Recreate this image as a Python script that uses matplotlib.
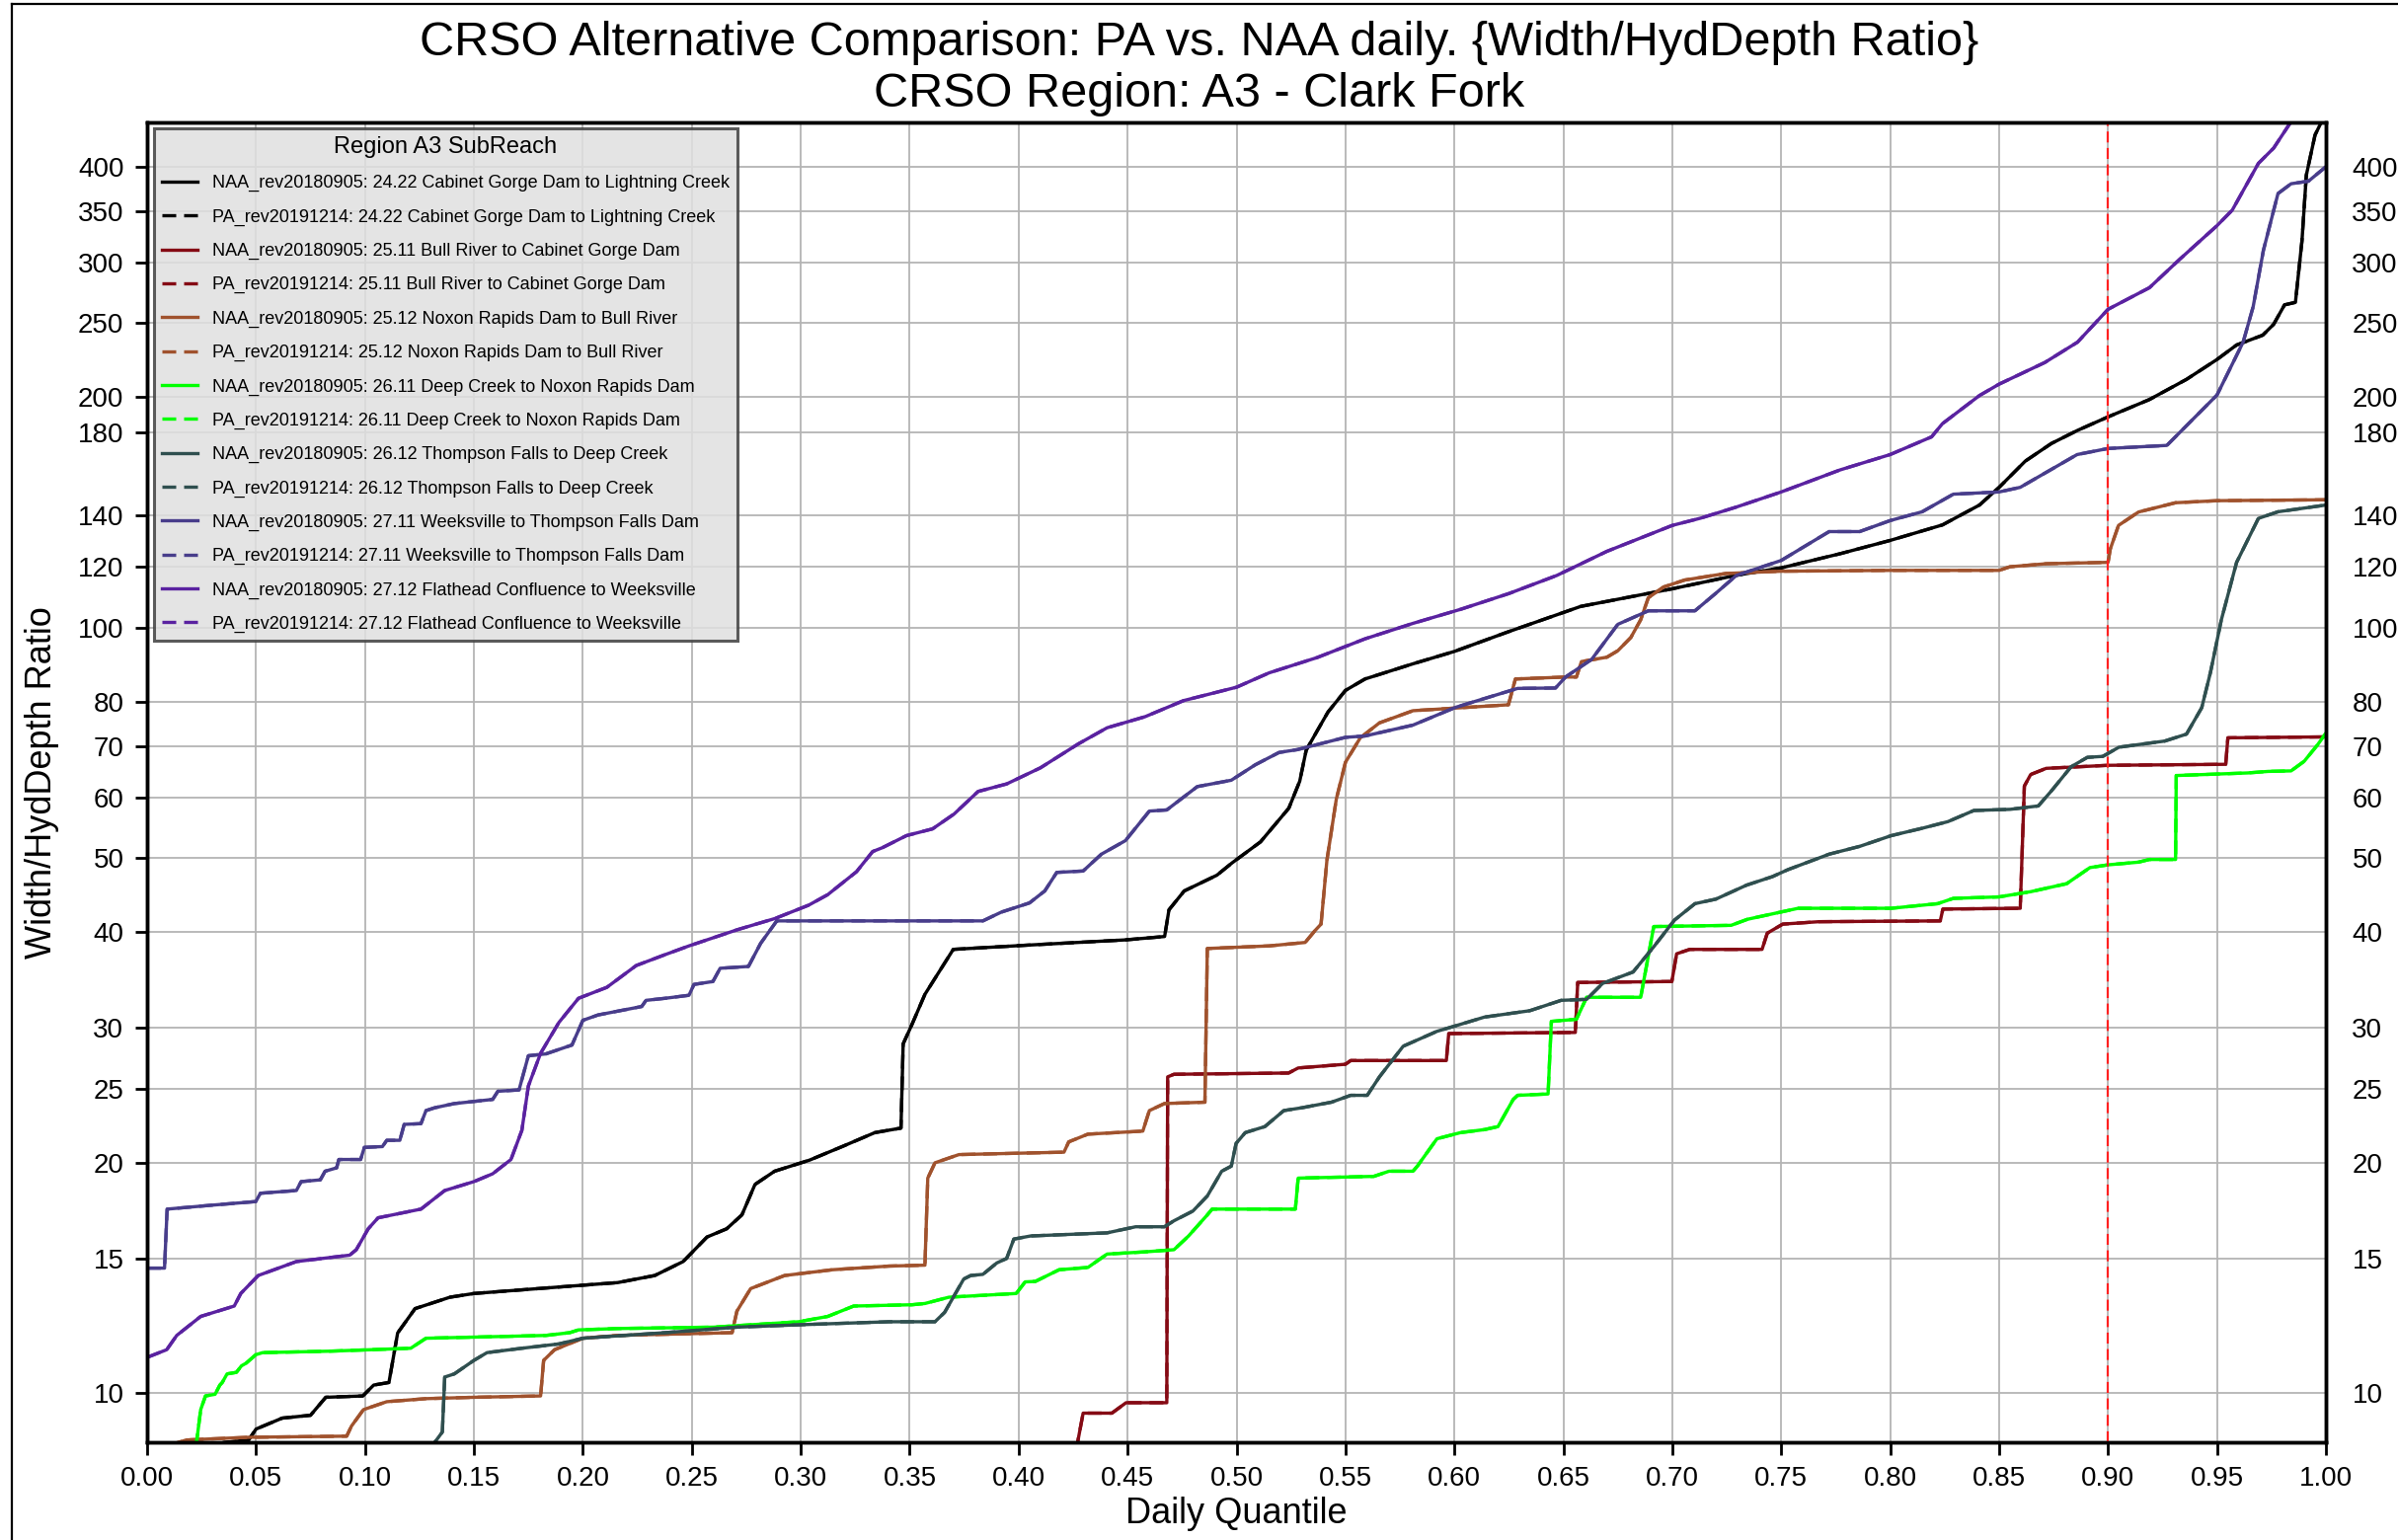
import matplotlib
matplotlib.use("Agg")
import matplotlib.pyplot as plt
from matplotlib.lines import Line2D
from matplotlib.ticker import FixedLocator, FixedFormatter, NullLocator

plt.rcParams["font.family"] = ["Liberation Sans", "DejaVu Sans"]

# ---------------------------------------------------------------------------
# Daily quantile curves, (quantile, width / hydraulic-depth ratio) pairs
# ---------------------------------------------------------------------------
cabinet_gorge = [
    (0.025, 8.5), (0.035, 8.62), (0.0466, 8.69), (0.050, 8.98), (0.062, 9.28),
    (0.075, 9.36), (0.082, 9.88), (0.099, 9.92), (0.104, 10.25), (0.111, 10.33),
    (0.115, 11.99), (0.123, 12.9), (0.139, 13.35), (0.150, 13.5), (0.194, 13.8),
    (0.216, 13.95), (0.233, 14.25), (0.246, 14.86), (0.257, 16.0), (0.266, 16.4),
    (0.273, 17.1), (0.279, 18.74), (0.288, 19.5), (0.304, 20.16), (0.319, 21.0),
    (0.334, 21.9), (0.346, 22.2), (0.347, 28.6), (0.351, 30.3), (0.357, 33.2),
    (0.370, 38.0), (0.405, 38.5), (0.449, 39.1), (0.467, 39.5), (0.469, 42.8),
    (0.476, 45.3), (0.491, 47.5), (0.498, 49.3), (0.511, 52.5), (0.524, 58.1),
    (0.529, 63.0), (0.532, 69.2), (0.537, 73.3), (0.542, 77.6), (0.550, 82.8),
    (0.559, 85.7), (0.581, 89.7), (0.600, 93.1), (0.624, 98.6), (0.658, 106.6),
    (0.700, 112.4), (0.729, 117.0), (0.750, 119.7), (0.777, 124.9), (0.800, 130.0),
    (0.824, 136.2), (0.841, 144.6), (0.850, 152.5), (0.862, 165.0), (0.874, 174.0),
    (0.886, 181.0), (0.900, 188.5), (0.919, 198.6), (0.936, 211.0), (0.950, 224.0),
    (0.959, 234.0), (0.971, 241.0), (0.976, 249.0), (0.981, 264.0), (0.986, 266.0),
    (0.989, 320.0), (0.991, 390.0), (0.995, 440.0), (0.998, 458.0), (1.0, 500.0),
]

bull_river = [
    (0.4263, 8.4), (0.4296, 9.42), (0.4428, 9.42), (0.4493, 9.72), (0.468, 9.72),
    (0.4684, 25.9), (0.4713, 26.1), (0.5239, 26.2), (0.5283, 26.6), (0.550, 26.9),
    (0.5524, 27.2), (0.5963, 27.2), (0.5974, 29.5), (0.6555, 29.6), (0.6566, 34.4),
    (0.6998, 34.5), (0.702, 37.5), (0.708, 38.0), (0.7412, 38.0), (0.7436, 39.9),
    (0.7507, 41.0), (0.7673, 41.3), (0.823, 41.4), (0.8242, 42.9), (0.8597, 43.0),
    (0.8616, 62.1), (0.8645, 64.3), (0.8716, 65.5), (0.900, 66.1), (0.954, 66.3),
    (0.955, 71.8), (1.0, 72.0),
]

noxon_rapids = [
    (0.010, 8.55), (0.018, 8.69), (0.0466, 8.76), (0.0916, 8.79), (0.0938, 9.06),
    (0.0993, 9.52), (0.110, 9.75), (0.128, 9.84), (0.150, 9.88), (0.1806, 9.92),
    (0.182, 11.04), (0.187, 11.4), (0.200, 11.8), (0.216, 11.9), (0.2685, 12.0),
    (0.2707, 12.8), (0.277, 13.7), (0.2926, 14.25), (0.3146, 14.5), (0.3405, 14.66),
    (0.357, 14.7), (0.3583, 19.1), (0.3616, 20.0), (0.3726, 20.5), (0.4208, 20.65),
    (0.423, 21.3), (0.4318, 21.8), (0.457, 22.0), (0.460, 23.4), (0.4669, 23.9),
    (0.4855, 24.0), (0.4866, 38.1), (0.515, 38.4), (0.5315, 38.8), (0.536, 40.2),
    (0.5388, 41.0), (0.5415, 49.7), (0.5458, 59.7), (0.550, 66.7), (0.5568, 71.8),
    (0.5656, 75.1), (0.581, 77.9), (0.6248, 79.3), (0.628, 85.7), (0.651, 86.2),
    (0.656, 86.2), (0.6583, 90.3), (0.670, 91.5), (0.675, 93.3), (0.681, 97.1),
    (0.6855, 102.4), (0.689, 109.4), (0.696, 113.0), (0.7057, 115.4), (0.7246, 117.7),
    (0.750, 118.5), (0.800, 118.8), (0.850, 118.8), (0.855, 120.1), (0.8716, 121.2),
    (0.900, 121.7), (0.901, 126.6), (0.9048, 136.0), (0.914, 141.6), (0.931, 145.6),
    (0.950, 146.5), (1.0, 146.9),
]

deep_creek = [
    (0.0224, 8.5), (0.0246, 9.52), (0.0268, 9.92), (0.0312, 9.97), (0.0334, 10.25),
    (0.0345, 10.33), (0.0367, 10.6), (0.041, 10.65), (0.0433, 10.86), (0.0455, 10.95),
    (0.0499, 11.23), (0.053, 11.3), (0.0839, 11.35), (0.121, 11.45), (0.128, 11.8),
    (0.183, 11.9), (0.194, 12.0), (0.198, 12.1), (0.216, 12.15), (0.260, 12.2),
    (0.299, 12.4), (0.3124, 12.6), (0.3243, 13.0), (0.351, 13.05), (0.357, 13.1),
    (0.368, 13.35), (0.3989, 13.5), (0.403, 13.98), (0.4077, 14.0), (0.4186, 14.5),
    (0.4318, 14.6), (0.4406, 15.2), (0.458, 15.3), (0.4713, 15.4), (0.478, 16.05),
    (0.4866, 17.1), (0.4888, 17.4), (0.527, 17.4), (0.5283, 19.1), (0.563, 19.2),
    (0.570, 19.5), (0.581, 19.5), (0.583, 19.8), (0.592, 21.5), (0.6028, 21.9),
    (0.6138, 22.1), (0.620, 22.3), (0.627, 24.2), (0.629, 24.5), (0.643, 24.6),
    (0.6445, 30.6), (0.656, 30.8), (0.6607, 32.9), (0.6855, 32.9), (0.6915, 40.7),
    (0.727, 40.85), (0.7345, 41.6), (0.7578, 43.0), (0.8005, 43.0), (0.8218, 43.6),
    (0.829, 44.3), (0.850, 44.5), (0.8645, 45.2), (0.881, 46.3), (0.8917, 48.6),
    (0.900, 49.0), (0.914, 49.4), (0.919, 49.8), (0.931, 49.8), (0.9313, 64.1),
    (0.964, 64.6), (0.9735, 64.9), (0.984, 65.0), (0.990, 66.9), (0.996, 70.2),
    (1.0, 72.8),
]

thompson_falls = [
    (0.129, 8.4), (0.1355, 8.9), (0.1366, 10.5), (0.141, 10.6), (0.150, 11.04),
    (0.156, 11.3), (0.172, 11.45), (0.189, 11.6), (0.200, 11.8), (0.2377, 12.0),
    (0.2707, 12.2), (0.3036, 12.3), (0.3405, 12.4), (0.3616, 12.4), (0.366, 12.75),
    (0.3748, 14.1), (0.378, 14.25), (0.3836, 14.3), (0.390, 14.8), (0.3945, 15.0),
    (0.3978, 15.9), (0.4055, 16.05), (0.4406, 16.2), (0.4537, 16.5), (0.4669, 16.5),
    (0.4713, 16.8), (0.480, 17.3), (0.4866, 18.1), (0.4932, 19.5), (0.4976, 19.8),
    (0.4998, 21.2), (0.504, 21.9), (0.513, 22.3), (0.5217, 23.4), (0.530, 23.6),
    (0.5436, 24.0), (0.5524, 24.5), (0.560, 24.5), (0.5656, 25.9), (0.5765, 28.4),
    (0.592, 29.7), (0.6006, 30.2), (0.6138, 31.0), (0.6346, 31.6), (0.649, 32.6),
    (0.6607, 32.7), (0.668, 34.3), (0.682, 35.5), (0.6915, 38.3), (0.701, 41.5),
    (0.7104, 43.6), (0.720, 44.2), (0.7341, 46.1), (0.746, 47.3), (0.7531, 48.3),
    (0.772, 50.6), (0.786, 51.8), (0.8005, 53.5), (0.8147, 54.7), (0.8265, 55.8),
    (0.8384, 57.7), (0.855, 57.9), (0.868, 58.5), (0.874, 61.2), (0.883, 65.8),
    (0.8905, 67.7), (0.8976, 67.9), (0.905, 69.8), (0.926, 71.1), (0.936, 72.6),
    (0.943, 78.6), (0.947, 87.4), (0.952, 102.4), (0.959, 121.7), (0.969, 138.9),
    (0.978, 141.7), (1.0, 144.6),
]

weeksville = [
    (0.0, 14.57), (0.008, 14.57), (0.0092, 17.4), (0.029, 17.6), (0.0499, 17.8),
    (0.052, 18.25), (0.0685, 18.4), (0.0707, 18.9), (0.0795, 19.0), (0.0817, 19.5),
    (0.087, 19.7), (0.088, 20.2), (0.098, 20.2), (0.0997, 20.95), (0.108, 21.0),
    (0.110, 21.4), (0.116, 21.4), (0.118, 22.45), (0.1257, 22.5), (0.128, 23.4),
    (0.132, 23.6), (0.141, 23.9), (0.1586, 24.2), (0.161, 24.8), (0.1707, 24.9),
    (0.175, 27.6), (0.183, 27.75), (0.195, 28.5), (0.200, 30.7), (0.207, 31.2),
    (0.227, 32.0), (0.229, 32.6), (0.2377, 32.8), (0.2487, 33.1), (0.251, 34.2),
    (0.2597, 34.5), (0.263, 35.9), (0.276, 36.1), (0.2816, 38.7), (0.289, 41.4),
    (0.3836, 41.4), (0.392, 42.5), (0.405, 43.7), (0.412, 45.3), (0.4175, 47.9),
    (0.4296, 48.1), (0.438, 50.6), (0.449, 52.7), (0.460, 57.6), (0.468, 57.8),
    (0.482, 62.0), (0.4976, 63.2), (0.5086, 66.2), (0.5195, 68.7), (0.528, 69.3),
    (0.550, 71.9), (0.559, 72.2), (0.581, 74.6), (0.6006, 78.7), (0.629, 83.3),
    (0.6464, 83.4), (0.651, 86.2), (0.663, 90.9), (0.675, 101.0), (0.689, 105.2),
    (0.7104, 105.2), (0.720, 110.9), (0.7294, 117.0), (0.750, 122.4), (0.772, 133.5),
    (0.786, 133.5), (0.800, 138.0), (0.8147, 141.7), (0.829, 149.4), (0.850, 150.4),
    (0.8597, 152.5), (0.8858, 168.3), (0.900, 171.4), (0.927, 173.0), (0.938, 186.0),
    (0.950, 201.3), (0.962, 236.0), (0.9666, 262.5), (0.9713, 311.0), (0.978, 369.0),
    (0.984, 380.0), (0.992, 383.0), (1.0, 400.0),
]

flathead = [
    (0.0, 11.14), (0.009, 11.4), (0.0136, 11.9), (0.0246, 12.6), (0.040, 13.0),
    (0.043, 13.5), (0.051, 14.25), (0.0685, 14.86), (0.093, 15.15), (0.096, 15.4),
    (0.1015, 16.4), (0.106, 16.95), (0.1257, 17.4), (0.1366, 18.4), (0.150, 18.9),
    (0.1586, 19.35), (0.167, 20.2), (0.172, 22.05), (0.175, 25.2), (0.1806, 27.8),
    (0.189, 30.5), (0.198, 32.8), (0.211, 33.9), (0.2245, 36.2), (0.2377, 37.4),
    (0.2487, 38.4), (0.2707, 40.3), (0.2882, 41.7), (0.3036, 43.4), (0.3124, 44.8),
    (0.3256, 48.0), (0.333, 51.0), (0.3375, 51.6), (0.3485, 53.5), (0.3605, 54.6),
    (0.3704, 57.1), (0.3814, 61.1), (0.3945, 62.5), (0.410, 65.6), (0.4274, 70.5),
    (0.4406, 74.0), (0.458, 76.5), (0.4757, 80.3), (0.500, 83.6), (0.515, 87.3),
    (0.537, 91.4), (0.559, 96.7), (0.581, 101.3), (0.603, 105.7), (0.625, 110.8),
    (0.647, 117.0), (0.670, 125.8), (0.700, 136.0), (0.713, 139.0), (0.729, 143.6),
    (0.750, 150.4), (0.777, 160.7), (0.800, 168.3), (0.819, 177.5), (0.824, 184.7),
    (0.841, 201.0), (0.850, 208.0), (0.871, 222.0), (0.886, 236.0), (0.900, 260.5),
    (0.919, 278.0), (0.933, 303.0), (0.950, 335.0), (0.957, 351.0), (0.969, 404.0),
    (0.976, 423.0), (0.984, 458.0), (1.0, 540.0),
]

reaches = [
    "24.22 Cabinet Gorge Dam to Lightning Creek",
    "25.11 Bull River to Cabinet Gorge Dam",
    "25.12 Noxon Rapids Dam to Bull River",
    "26.11 Deep Creek to Noxon Rapids Dam",
    "26.12 Thompson Falls to Deep Creek",
    "27.11 Weeksville to Thompson Falls Dam",
    "27.12 Flathead Confluence to Weeksville",
]
curves = [cabinet_gorge, bull_river, noxon_rapids, deep_creek,
          thompson_falls, weeksville, flathead]
colors = ["black", "#850a14", "#a0522d", "#00ff00",
          "#2f4f4f", "#483d8b", "#5a22a0"]

y_ticks = [10, 15, 20, 25, 30, 40, 50, 60, 70, 80, 100, 120, 140, 180, 200,
           250, 300, 350, 400]
x_ticks = [i * 0.05 for i in range(21)]
x_labels = [f"{t:.2f}" for t in x_ticks]
y_limits = (8.63, 457)
threshold_quantile = 0.9

# ---------------------------------------------------------------------------
W, H = 2429, 1560
fig = plt.figure(figsize=(W / 100, H / 100), dpi=100)
ax = fig.add_axes([149 / W, 1 - 1461 / H, (2356 - 149) / W, (1461 - 124) / H])

for name, pts, col in zip(reaches, curves, colors):
    q = [p[0] for p in pts]
    v = [p[1] for p in pts]
    ax.plot(q, v, color=col, lw=2.4, ls="-", label=f"NAA_rev20180905: {name}")
    ax.plot(q, v, color=col, lw=2.4, ls=(0, (4.2, 2.4)),
            label=f"PA_rev20191214: {name}")

ax.axvline(threshold_quantile, color="#ff2020", lw=1.6, ls=(0, (5, 2.5)), zorder=5)

ax.set_yscale("log")
ax.set_xlim(0, 1)
ax.set_ylim(*y_limits)
ax.yaxis.set_major_locator(FixedLocator(y_ticks))
ax.yaxis.set_major_formatter(FixedFormatter([str(t) for t in y_ticks]))
ax.yaxis.set_minor_locator(NullLocator())
ax.set_xticks(x_ticks)
ax.set_xticklabels(x_labels)
ax.grid(True, which="major", color="#b4b4b4", lw=1.3)
ax.set_axisbelow(True)

ax.tick_params(axis="both", labelsize=20, direction="out", length=9, width=2,
               pad=8)
for s in ax.spines.values():
    s.set_linewidth(2.5)
    s.set_color("black")

ax.set_xlabel("Daily Quantile", fontsize=26)
ax.set_ylabel("Width/HydDepth Ratio", fontsize=26)
ax.xaxis.set_label_coords(0.5, (1461 - 1516) / 1337)
ax.yaxis.set_label_coords((60 - 149) / 2207, 0.5)

# mirrored scale on the right side
ax2 = ax.twinx()
ax2.set_yscale("log")
ax2.set_ylim(*y_limits)
ax2.yaxis.set_major_locator(FixedLocator(y_ticks))
ax2.yaxis.set_major_formatter(FixedFormatter([str(t) for t in y_ticks]))
ax2.yaxis.set_minor_locator(NullLocator())
ax2.tick_params(axis="y", labelsize=20, length=0, pad=19)
for s in ax2.spines.values():
    s.set_linewidth(2.5)

leg = ax.legend(loc="upper left", bbox_to_anchor=(7 / 2207, 1 - 6 / 1337),
                borderaxespad=0, fontsize=13.0, title="Region A3 SubReach",
                title_fontsize=17, frameon=True, fancybox=False,
                facecolor="#e0e0e0", edgecolor="#404040", framealpha=0.85,
                handlelength=2.0, labelspacing=0.95, borderpad=0.45)
leg.get_frame().set_linewidth(2.2)

fig.text(0.5, 1 - 44 / H,
         "CRSO Alternative Comparison: PA vs. NAA daily. {Width/HydDepth Ratio}",
         ha="center", va="center", fontsize=35)
fig.text(0.5, 1 - 95 / H, "CRSO Region: A3 - Clark Fork",
         ha="center", va="center", fontsize=35)

# outer frame line along the left and top edges
fig.add_artist(Line2D([12 / W, 12 / W], [0, 1 - 4 / H], color="black", lw=1.6,
                      transform=fig.transFigure))
fig.add_artist(Line2D([12 / W, 1], [1 - 4 / H, 1 - 4 / H], color="black", lw=1.6,
                      transform=fig.transFigure))

fig.savefig("out.png", dpi=100)
